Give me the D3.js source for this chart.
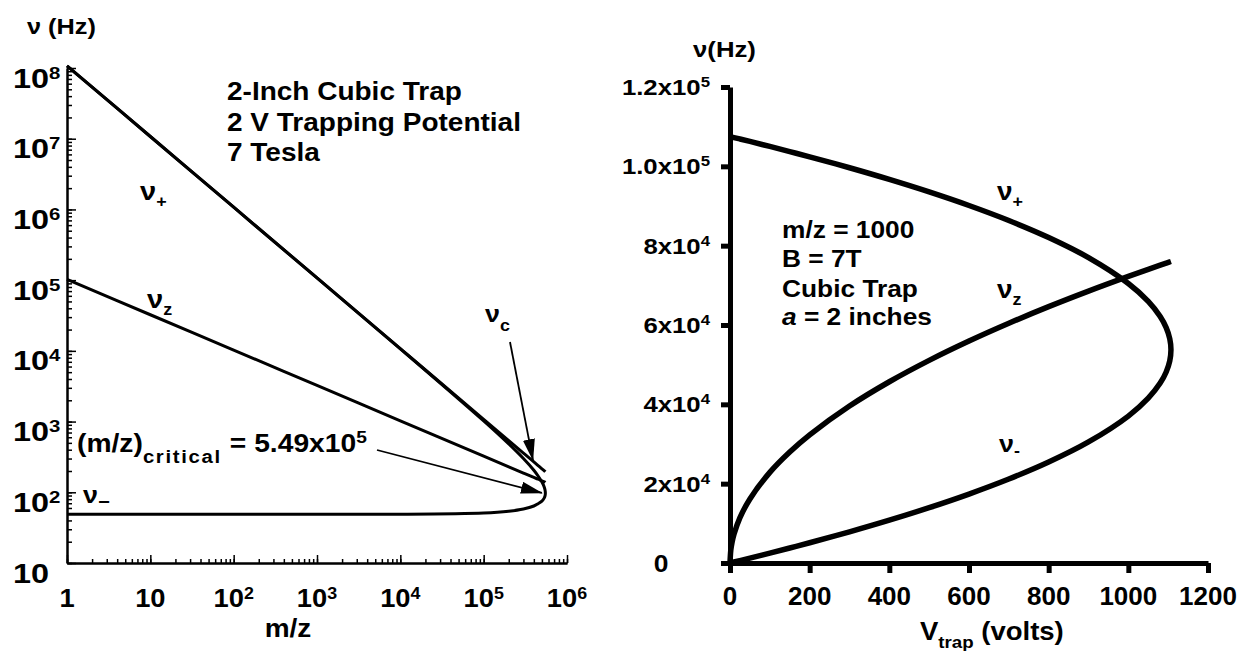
<!DOCTYPE html>
<html>
<head>
<meta charset="utf-8">
<script src="https://cdn.jsdelivr.net/npm/d3@7"></script>
<style>
body { margin: 0; background: #fff; }
text { font-family: "Liberation Sans", Arial, Helvetica, sans-serif; font-weight: bold; fill: #000; }
</style>
</head>
<body>
<div id="chart"></div>
<script>
// left panel: frequencies vs m/z (2 V, 7 T, 2-inch cubic trap)
var mzValues    = [1, 10, 100, 1e3, 1e4, 1e5, 2e5, 3e5, 4e5, 4.5e5, 5e5, 5.3e5, 5.45e5, 5.5e5];
var nuPlusLeft  = [1.075e8, 1.075e7, 1.075e6, 107450, 10700, 1024, 483, 300, 205, 170, 140, 121, 108, 98];
var nuMinusLeft = [49, 49, 49, 49, 49, 51, 54, 58, 64, 69, 75, 82, 89, 98];
var nuCLeft     = [1.075e8, 1.075e7, 1.075e6, 107500, 10750, 1075, 538, 358, 269, 239, 215, 203, 197, 195];
var nuZLeft     = [102500, 32400, 10250, 3240, 1025, 324, 229, 187, 162, 153, 145, 141, 139, 138];

// right panel: frequencies vs trapping voltage (m/z 1000)
var vTrap        = [0, 2, 5, 10, 25, 50, 100, 150, 200, 300, 400, 500, 600, 700, 800, 900, 1000, 1050, 1080, 1095, 1104, 1107];
var nuPlusRight  = [107500, 107451, 107378, 107256, 106890, 106272, 105014, 103725, 102402, 99641, 96703, 93549, 90123, 86338, 82052, 76988, 70459, 65945, 62142, 59342, 56539, 53750];
var nuZRight     = [0, 3231, 5109, 7225, 11423, 16155, 22846, 27981, 32310, 39571, 45693, 51086, 55962, 60446, 64620, 68540, 72247, 74032, 75081, 75601, 75911, 76014];
var nuMinusRight = [0, 49, 122, 244, 610, 1228, 2486, 3775, 5098, 7859, 10797, 13951, 17377, 21162, 25448, 30512, 37041, 41555, 45358, 48158, 50961, 53750];

// tick labels
var leftYExp  = [1, 2, 3, 4, 5, 6, 7, 8];
var leftXExp  = [0, 1, 2, 3, 4, 5, 6];
var rightYTicks  = [0, 2e4, 4e4, 6e4, 8e4, 1e5, 1.2e5];
var rightYLabels = [["0", ""], ["2x10", "4"], ["4x10", "4"], ["6x10", "4"], ["8x10", "4"], ["1.0x10", "5"], ["1.2x10", "5"]];
var rightXTicks  = [0, 200, 400, 600, 800, 1000, 1200];

var SX = 1.12; // text in the figure is a little wider than the font

var svg = d3.select("#chart").append("svg")
    .attr("width", 1237)
    .attr("height", 656);

svg.append("defs").append("marker")
    .attr("id", "head")
    .attr("markerUnits", "userSpaceOnUse")
    .attr("markerWidth", 22).attr("markerHeight", 12)
    .attr("refX", 21).attr("refY", 6)
    .attr("orient", "auto")
    .append("path").attr("d", "M0,0L22,6L0,12Z").attr("fill", "#000");

function addText(g, x, y, size, sx, anchor) {
    return g.append("text")
        .attr("transform", "translate(" + x + "," + y + ") scale(" + sx + ",1)")
        .attr("font-size", size)
        .attr("text-anchor", anchor || "start");
}

// ---------- left panel ----------
var xL = d3.scaleLog().domain([1, 1e6]).range([67, 567]);
var yL = d3.scaleLog().domain([10, 1e8]).range([563, 68]);
var left = svg.append("g");

// ticks point inward (minor then major)
left.append("g").attr("transform", "translate(0,563)")
    .call(d3.axisTop(xL).tickValues(xL.ticks()).tickSize(4).tickSizeOuter(0).tickFormat(""));
left.append("g").attr("transform", "translate(0,563)")
    .call(d3.axisTop(xL).tickValues(leftXExp.map(function (e) { return Math.pow(10, e); })).tickSize(8).tickSizeOuter(0).tickFormat(""));
left.append("g").attr("transform", "translate(67,0)")
    .call(d3.axisRight(yL).tickValues(yL.ticks()).tickSize(5).tickSizeOuter(0).tickFormat(""));
left.append("g").attr("transform", "translate(67,0)")
    .call(d3.axisRight(yL).tickValues(leftYExp.map(function (e) { return Math.pow(10, e); })).tickSize(9).tickSizeOuter(0).tickFormat(""));
left.selectAll(".domain").attr("stroke-width", 2);
left.selectAll(".tick line").attr("stroke-width", 1.5);

leftYExp.forEach(function (e) {
    var t = addText(left, 13, yL(Math.pow(10, e)) + 19.5, 27, 1.2);
    t.append("tspan").text("10");
    if (e > 1) t.append("tspan").attr("font-size", 17).attr("dy", -9).text(e);
});
leftXExp.forEach(function (e) {
    var t = addText(left, xL(Math.pow(10, e)), 607, 26, 1.05, "middle");
    if (e === 0) { t.text("1"); return; }
    t.append("tspan").text("10");
    if (e > 1) t.append("tspan").attr("font-size", 17).attr("dy", -8).text(e);
});

var lineL = d3.line()
    .x(function (d) { return xL(d[0]); })
    .y(function (d) { return yL(d[1]); })
    .curve(d3.curveCatmullRom.alpha(0.5));

// nu+ going out to the critical point, nu- coming back
var plusMinusL = mzValues.map(function (m, i) { return [m, nuPlusLeft[i]]; })
    .concat(mzValues.slice(0, -1).map(function (m, i) { return [m, nuMinusLeft[i]]; }).reverse());
[plusMinusL,
 mzValues.map(function (m, i) { return [m, nuCLeft[i]]; }),
 mzValues.map(function (m, i) { return [m, nuZLeft[i]]; })].forEach(function (pts) {
    left.append("path").datum(pts)
        .attr("fill", "none").attr("stroke", "#000").attr("stroke-width", 3)
        .attr("d", lineL);
});

// titles and notes
addText(left, 27, 34, 22, 1.15).text("ν (Hz)");
addText(left, 288, 637, 25, 1.12, "middle").text("m/z");
addText(left, 227, 100, 25, SX).text("2-Inch Cubic Trap");
addText(left, 227, 131, 25, SX).text("2 V Trapping Potential");
addText(left, 227, 161, 25, SX).text("7 Tesla");

var lab = addText(left, 140, 200, 26, SX);
lab.append("tspan").text("ν");
lab.append("tspan").attr("font-size", 16).attr("dy", 7).text("+");
lab = addText(left, 147, 308, 26, SX);
lab.append("tspan").text("ν");
lab.append("tspan").attr("font-size", 16).attr("dy", 7).text("z");
lab = addText(left, 83, 503, 24, SX);
lab.append("tspan").text("ν");
lab.append("tspan").attr("font-size", 18).attr("dy", 5).text("−");
lab = addText(left, 485, 322, 24, SX);
lab.append("tspan").text("ν");
lab.append("tspan").attr("font-size", 16).attr("dy", 9).text("c");

lab = addText(left, 77, 452, 25, 1.13);
lab.append("tspan").text("(m/z)");
lab.append("tspan").attr("font-size", 18).attr("dy", 11).attr("letter-spacing", 1.5).text("critical");
lab.append("tspan").attr("dy", -11).text(" = 5.49x10");
lab.append("tspan").attr("font-size", 17).attr("dy", -9).text("5");

left.append("line")
    .attr("x1", 510).attr("y1", 342)
    .attr("x2", xL(3.9e5)).attr("y2", yL(285))
    .attr("stroke", "#000").attr("stroke-width", 1.8).attr("marker-end", "url(#head)");
left.append("line")
    .attr("x1", 377).attr("y1", 450)
    .attr("x2", xL(5.0e5)).attr("y2", yL(98))
    .attr("stroke", "#000").attr("stroke-width", 1.8).attr("marker-end", "url(#head)");

// ---------- right panel ----------
var xR = d3.scaleLinear().domain([0, 1200]).range([730, 1208]);
var yR = d3.scaleLinear().domain([0, 1.2e5]).range([563, 87]);
var right = svg.append("g");

right.append("g").attr("transform", "translate(0,563)")
    .call(d3.axisBottom(xR).tickValues(rightXTicks).tickSize(10).tickSizeOuter(0).tickFormat(""));
right.append("g").attr("transform", "translate(730,0)")
    .call(d3.axisLeft(yR).tickValues(rightYTicks).tickSize(9).tickSizeOuter(0).tickFormat(""));
right.selectAll(".domain").attr("stroke-width", 5);
right.selectAll(".tick line").attr("stroke-width", 5);

rightXTicks.forEach(function (v) {
    addText(right, xR(v), 605, 26, 1.0, "middle").text(v);
});
rightYTicks.forEach(function (v, i) {
    var lbl = rightYLabels[i];
    var t = v === 0 ? addText(right, 661, yR(v) + 9, 24, 1.1, "middle")
                    : addText(right, 710, yR(v) + 8, 23, SX, "end");
    t.append("tspan").text(lbl[0]);
    if (lbl[1]) t.append("tspan").attr("font-size", 15).attr("dy", -8).text(lbl[1]);
});

var lineR = d3.line()
    .x(function (d) { return xR(d[0]); })
    .y(function (d) { return yR(d[1]); })
    .curve(d3.curveCatmullRom.alpha(0.5));

var plusMinusR = vTrap.map(function (v, i) { return [v, nuPlusRight[i]]; })
    .concat(vTrap.slice(0, -1).map(function (v, i) { return [v, nuMinusRight[i]]; }).reverse());
[plusMinusR, vTrap.map(function (v, i) { return [v, nuZRight[i]]; })].forEach(function (pts) {
    right.append("path").datum(pts)
        .attr("fill", "none").attr("stroke", "#000").attr("stroke-width", 5.5)
        .attr("d", lineR);
});

addText(right, 693, 57, 23, 1.12).text("ν(Hz)");
var xt = addText(right, 920, 640, 25, 1.1);
xt.append("tspan").text("V");
xt.append("tspan").attr("font-size", 17).attr("dy", 8).text("trap");
xt.append("tspan").attr("dy", -8).text(" (volts)");

addText(right, 782, 238, 23.5, SX).text("m/z = 1000");
addText(right, 782, 267, 23.5, SX).text("B = 7T");
addText(right, 782, 297, 23.5, SX).text("Cubic Trap");
var at = addText(right, 782, 325, 23.5, SX);
at.append("tspan").attr("font-style", "italic").text("a");
at.append("tspan").text(" = 2 inches");

lab = addText(right, 997, 200, 25, SX);
lab.append("tspan").text("ν");
lab.append("tspan").attr("font-size", 16).attr("dy", 7).text("+");
lab = addText(right, 997, 298, 25, SX);
lab.append("tspan").text("ν");
lab.append("tspan").attr("font-size", 16).attr("dy", 7).text("z");
lab = addText(right, 999, 452, 24, SX);
lab.append("tspan").text("ν");
lab.append("tspan").attr("font-size", 16).attr("dy", 4).text("-");
</script>
</body>
</html>
